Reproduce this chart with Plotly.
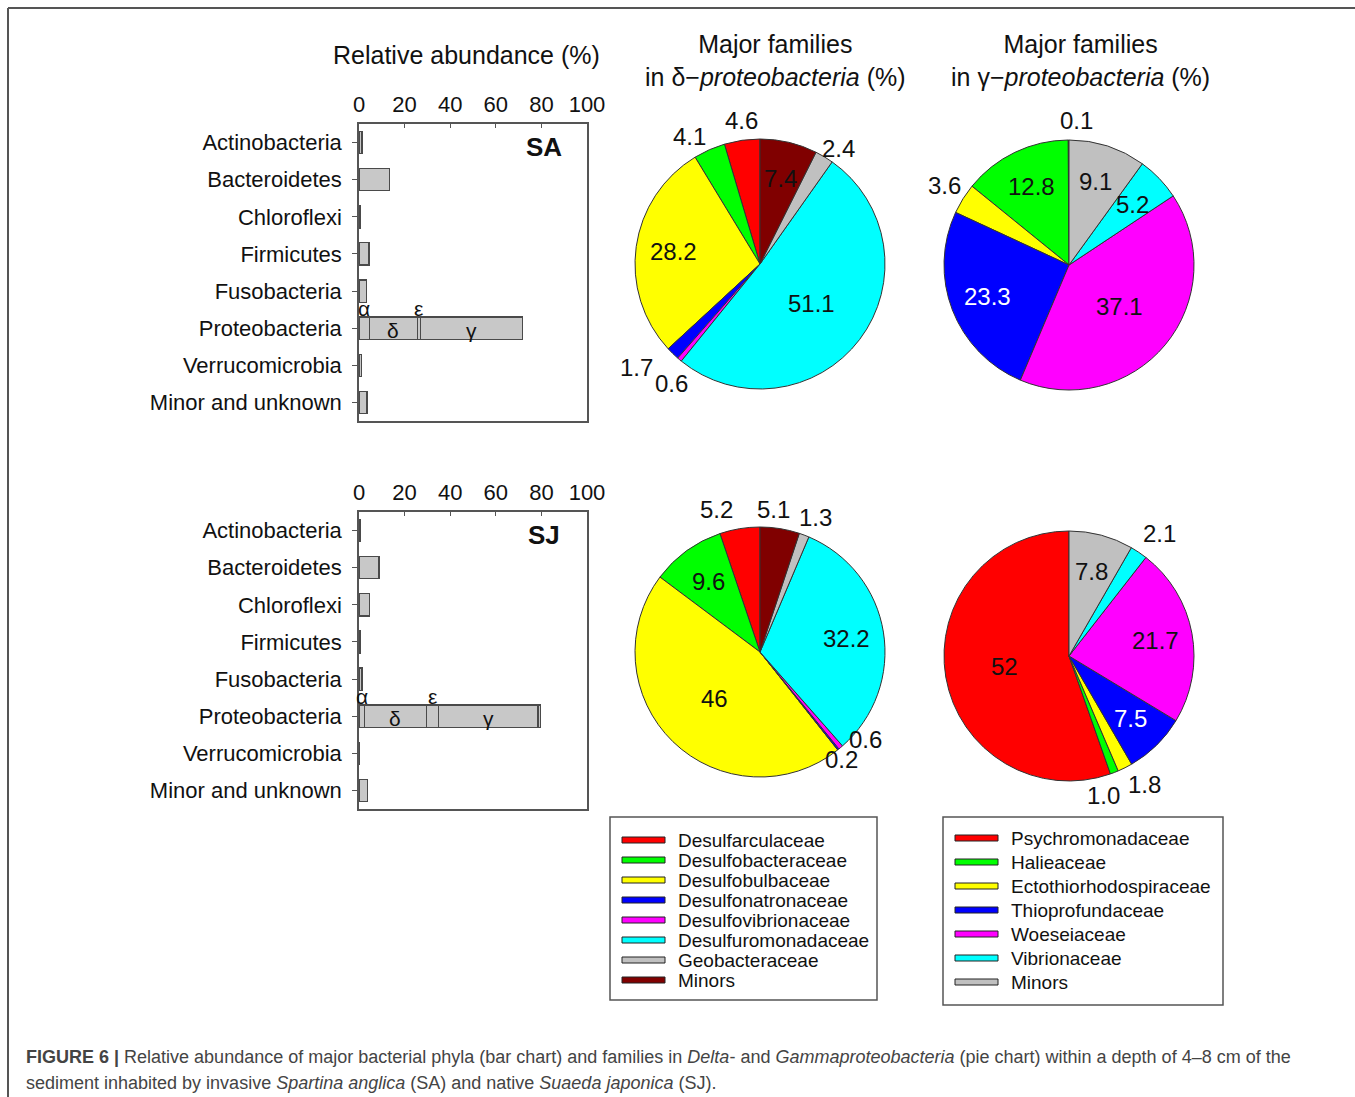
import math
import plotly.graph_objects as go

W, H = 1355, 1097
FONT = "Liberation Sans, Arial, sans-serif"

# ---------------- data ----------------
phyla = ["Actinobacteria", "Bacteroidetes", "Chloroflexi", "Firmicutes",
         "Fusobacteria", "Proteobacteria", "Verrucomicrobia", "Minor and unknown"]
# relative abundance (%) of each phylum; Proteobacteria is split by class below
sa_phyla = [1.3, 13.5, 0.5, 4.4, 3.4, 0.0, 1.2, 3.5]
sj_phyla = [0.4, 8.8, 4.7, 0.7, 1.3, 0.0, 0.3, 3.9]

proteo_classes = ["α", "δ", "ε", "γ", "other"]
sa_proteo = [4.5, 21.1, 1.3, 44.9, 0.0]
sj_proteo = [2.5, 27.0, 5.3, 43.7, 1.2]

delta_families = ["Desulfarculaceae", "Desulfobacteraceae", "Desulfobulbaceae",
                  "Desulfonatronaceae", "Desulfovibrionaceae", "Desulfuromonadaceae",
                  "Geobacteraceae", "Minors"]
delta_colors = ["#ff0000", "#00ff00", "#ffff00", "#0000ff", "#ff00ff", "#00ffff",
                "#c0c0c0", "#800000"]
sa_delta = [4.6, 4.1, 28.2, 1.7, 0.6, 51.1, 2.4, 7.4]
sj_delta = [5.2, 9.6, 46, 0.2, 0.6, 32.2, 1.3, 5.1]

gamma_families = ["Psychromonadaceae", "Halieaceae", "Ectothiorhodospiraceae",
                  "Thioprofundaceae", "Woeseiaceae", "Vibrionaceae", "Minors"]
gamma_colors = ["#ff0000", "#00ff00", "#ffff00", "#0000ff", "#ff00ff", "#00ffff",
                "#c0c0c0"]
sa_gamma = [0.1, 12.8, 3.6, 23.3, 37.1, 5.2, 9.1]
sj_gamma = [52, 1.0, 1.8, 7.5, 21.7, 2.1, 7.8]


# ---------------- helpers ----------------
def fx(px):
    return px / W


def fy(py):
    return 1 - py / H


def fmt(v):
    if v >= 10 and float(v).is_integer():
        return str(int(v))
    return f"{v:.1f}"


fig = go.Figure()

BAR_FILL = "#c8c8c8"
BAR_LINE = "#4a4a4a"
AXIS_COL = "#555555"

# ---------------- bar charts ----------------
bar_panels = [
    ("SA", sa_phyla, sa_proteo, "x", "y", 124, 421),
    ("SJ", sj_phyla, sj_proteo, "x2", "y2", 512, 809),
]
for name, vals, proteo, xa, ya, top, bot in bar_panels:
    fig.add_trace(go.Bar(
        x=vals, y=phyla, orientation="h", xaxis=xa, yaxis=ya, width=0.6,
        marker=dict(color=BAR_FILL, line=dict(color=BAR_LINE, width=1.2)),
        showlegend=False, hoverinfo="skip"))
    for cls, v in zip(proteo_classes, proteo):
        if v <= 0:
            continue
        fig.add_trace(go.Bar(
            x=[v], y=["Proteobacteria"], orientation="h", xaxis=xa, yaxis=ya,
            width=0.6, name=cls,
            marker=dict(color=BAR_FILL, line=dict(color=BAR_LINE, width=1.2)),
            showlegend=False, hoverinfo="skip"))
    # class letters on the Proteobacteria bar
    cum = 0.0
    for cls, v in zip(proteo_classes, proteo):
        mid = cum + v / 2
        cum += v
        if cls == "other" or v <= 0:
            continue
        above = cls in ("α", "ε")
        fig.add_annotation(
            x=mid, y="Proteobacteria", xref=xa, yref=ya, text=cls,
            showarrow=False, yshift=20 if above else -2,
            xanchor="center", yanchor="middle",
            font=dict(family=FONT, size=21, color="#111"))
    # panel tag
    fig.add_annotation(
        x=fx(544), y=fy(top + 23), xref="paper", yref="paper", text=f"<b>{name}</b>",
        showarrow=False, xanchor="center", yanchor="middle",
        font=dict(family=FONT, size=26, color="#111"))

axis_common = dict(
    showline=True, mirror=True, linecolor=AXIS_COL, linewidth=1.5,
    showgrid=False, zeroline=False, tickfont=dict(family=FONT, size=22, color="#111"),
    tickcolor=AXIS_COL, automargin=False,
)
for i, (top, bot) in enumerate([(124, 421), (512, 809)]):
    sfx = "" if i == 0 else str(i + 1)
    fig.update_layout(**{
        f"xaxis{sfx}": dict(
            axis_common, domain=[fx(359), fx(587)], range=[0, 100], side="top",
            tickvals=[0, 20, 40, 60, 80, 100], ticks="inside", ticklen=4,
            ticklabelstandoff=1, anchor=f"y{sfx}", fixedrange=True),
        f"yaxis{sfx}": dict(
            axis_common, domain=[fy(bot), fy(top)], type="category",
            categoryorder="array", categoryarray=phyla, range=[7.5, -0.5],
            ticks="outside", ticklen=5, ticklabelstandoff=6,
            anchor=f"x{sfx}", fixedrange=True),
    })

# ---------------- pie charts ----------------
R = 125
pie_specs = [
    # values, colours, centre (px), slices labelled outside, white labels, label nudges
    (sa_delta, delta_colors, (760, 264), {0, 1, 3, 4, 6}, set(),
     {1: (0, 6), 3: (-15, -4), 4: (13, 6), 6: (-6, 11)}),
    (sa_gamma, gamma_colors, (1069, 265), {0, 2}, {3},
     {0: (8, 0), 2: (3, 4)}),
    (sj_delta, delta_colors, (760, 652), {0, 3, 4, 6, 7}, set(),
     {0: (-22, 0), 7: (-7, 0), 6: (-8, 2), 3: (-17, -8), 4: (4, -26)}),
    (sj_gamma, gamma_colors, (1069, 656), {1, 2, 5}, {3},
     {1: (-30, 4), 2: (0, -2)}),
]
for vals, cols, (cx, cy), outside, white, nudges in pie_specs:
    total = sum(vals)
    fig.add_trace(go.Pie(
        values=vals, textinfo="none",
        sort=False, direction="counterclockwise",
        rotation=-360.0 * vals[0] / total,
        marker=dict(colors=cols, line=dict(color="#333", width=1)),
        domain=dict(x=[fx(cx - R), fx(cx + R)], y=[fy(cy + R), fy(cy - R)]),
        showlegend=False, hoverinfo="skip"))
    # value labels placed along each slice's bisector
    cum = 0.0
    for i, v in enumerate(vals):
        frac_mid = (cum + v / 2) / total
        cum += v
        th = 2 * math.pi * frac_mid            # counter-clockwise from 12 o'clock
        ux, uy = -math.sin(th), -math.cos(th)  # screen direction (y down)
        dx, dy = nudges.get(i, (0, 0))
        if i in outside:
            rr = R + 5
            xa = "right" if ux < -0.35 else ("left" if ux > 0.35 else "center")
            ya = "bottom" if uy < -0.35 else ("top" if uy > 0.35 else "middle")
            color = "#111"
        else:
            rr = R * (0.52 if v / total > 0.4 else 0.7)
            xa, ya = "center", "middle"
            color = "#fff" if i in white else "#111"
        fig.add_annotation(
            x=fx(cx + rr * ux + dx), y=fy(cy + rr * uy + dy),
            xref="paper", yref="paper", text=fmt(v), showarrow=False,
            xanchor=xa, yanchor=ya, borderpad=0,
            font=dict(family=FONT, size=24, color=color))

# ---------------- titles ----------------
titles = [
    (466, 55, "Relative abundance (%)"),
    (775, 61, "Major families<br>in δ−<i>proteobacteria</i> (%)"),
    (1080, 61, "Major families<br>in γ−<i>proteobacteria</i> (%)"),
]
for x, y, t in titles:
    fig.add_annotation(x=fx(x), y=fy(y), xref="paper", yref="paper", text=t,
                       showarrow=False, align="center", xanchor="center",
                       yanchor="middle",
                       font=dict(family=FONT, size=25, color="#111"))

# ---------------- legends ----------------
shapes = []
legend_specs = [
    (delta_families, delta_colors, (610, 817, 877, 1000), 622, 840, 20),
    (gamma_families, gamma_colors, (943, 817, 1223, 1005), 955, 838, 24),
]
for names, cols, (x0, y0, x1, y1), sx, sy, step in legend_specs:
    shapes.append(dict(type="rect", xref="paper", yref="paper",
                       x0=fx(x0), x1=fx(x1), y0=fy(y1), y1=fy(y0),
                       line=dict(color="#555", width=1.5), fillcolor="rgba(0,0,0,0)"))
    for i, (n, c) in enumerate(zip(names, cols)):
        yy = sy + i * step
        shapes.append(dict(type="rect", xref="paper", yref="paper",
                           x0=fx(sx), x1=fx(sx + 43), y0=fy(yy + 3), y1=fy(yy - 3),
                           line=dict(color="#222", width=1), fillcolor=c))
        fig.add_annotation(x=fx(sx + 54), y=fy(yy), xref="paper", yref="paper",
                           text=n, showarrow=False, xanchor="left", yanchor="middle",
                           font=dict(family=FONT, size=19, color="#111"))

# figure frame (top and left edges)
shapes.append(dict(type="line", xref="paper", yref="paper",
                   x0=fx(8), x1=1, y0=fy(8), y1=fy(8), line=dict(color="#555", width=2)))
shapes.append(dict(type="line", xref="paper", yref="paper",
                   x0=fx(8), x1=fx(8), y0=fy(8), y1=0, line=dict(color="#555", width=2)))

# ---------------- caption ----------------
caption = [
    (1057, "<b>FIGURE 6 |</b> Relative abundance of major bacterial phyla (bar chart) and "
           "families in <i>Delta</i>- and <i>Gammaproteobacteria</i> (pie chart) within a "
           "depth of 4–8 cm of the"),
    (1083, "sediment inhabited by invasive <i>Spartina anglica</i> (SA) and native "
           "<i>Suaeda japonica</i> (SJ)."),
]
for y, t in caption:
    fig.add_annotation(x=fx(25), y=fy(y), xref="paper", yref="paper", text=t,
                       showarrow=False, xanchor="left", yanchor="middle", align="left",
                       borderpad=0,
                       font=dict(family=FONT, size=18, color="#444"))

fig.update_layout(
    width=W, height=H,
    margin=dict(l=0, r=0, t=0, b=0, pad=0, autoexpand=False),
    paper_bgcolor="white", plot_bgcolor="white",
    barmode="stack", bargap=0.4, shapes=shapes, showlegend=False,
    font=dict(family=FONT),
)

fig.write_html("out.html")
